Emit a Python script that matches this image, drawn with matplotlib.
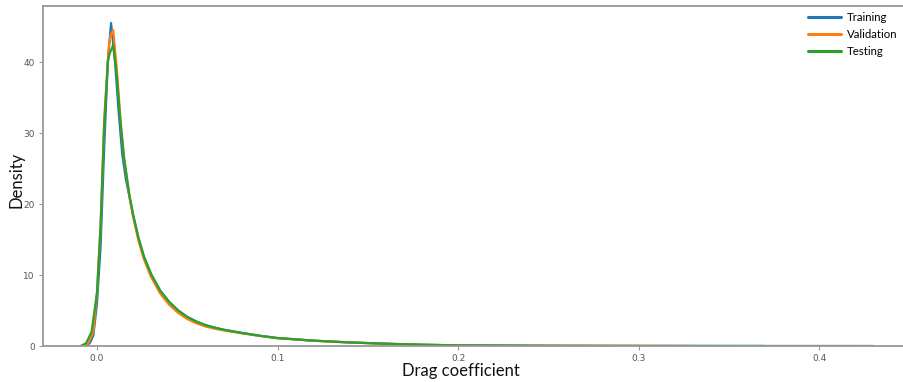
import matplotlib
matplotlib.use("Agg")
import matplotlib.pyplot as plt

# Kernel density estimates of the drag coefficient for each data split
train_x = [-0.006, -0.004, -0.002, 0.0, 0.002, 0.004, 0.006, 0.0078, 0.010, 0.012,
           0.014, 0.016, 0.018, 0.020, 0.023, 0.026, 0.030, 0.035, 0.040, 0.045,
           0.050, 0.055, 0.060, 0.065, 0.070, 0.080, 0.090, 0.100, 0.120, 0.140,
           0.160, 0.180, 0.200, 0.250, 0.300, 0.350, 0.400, 0.430]
train_d = [0.0, 0.4, 1.5, 6.0, 14.0, 28.0, 40.0, 45.5, 40.0, 33.0,
           27.0, 23.5, 21.0, 18.5, 15.2, 12.6, 10.1, 7.8, 6.2, 5.0,
           4.1, 3.45, 2.95, 2.6, 2.3, 1.85, 1.45, 1.12, 0.75, 0.5,
           0.32, 0.18, 0.09, 0.03, 0.012, 0.006, 0.003, 0.0]

val_x = [-0.008, -0.005, -0.002, 0.0, 0.002, 0.004, 0.0065, 0.0075, 0.009, 0.011,
         0.013, 0.015, 0.018, 0.020, 0.023, 0.026, 0.030, 0.035, 0.040, 0.045,
         0.050, 0.055, 0.060, 0.065, 0.070, 0.080, 0.090, 0.100, 0.120, 0.140,
         0.160, 0.180, 0.200, 0.250, 0.300, 0.330]
val_d = [0.0, 0.3, 2.0, 7.5, 17.0, 32.0, 42.0, 43.8, 44.5, 39.0,
         32.0, 26.5, 21.0, 18.2, 14.8, 12.2, 9.7, 7.4, 5.8, 4.65,
         3.8, 3.2, 2.75, 2.45, 2.2, 1.8, 1.42, 1.1, 0.75, 0.5,
         0.32, 0.18, 0.09, 0.03, 0.01, 0.0]

test_x = [-0.009, -0.006, -0.003, 0.0, 0.002, 0.004, 0.006, 0.007, 0.009, 0.011,
          0.013, 0.015, 0.018, 0.020, 0.023, 0.026, 0.030, 0.035, 0.040, 0.045,
          0.050, 0.055, 0.060, 0.065, 0.070, 0.080, 0.090, 0.100, 0.120, 0.140,
          0.160, 0.180, 0.200, 0.250, 0.300, 0.340, 0.369]
test_d = [0.0, 0.4, 2.0, 7.5, 17.0, 31.0, 40.0, 41.2, 42.4, 38.0,
          31.5, 26.5, 21.2, 18.5, 15.2, 12.6, 10.1, 7.8, 6.2, 5.0,
          4.1, 3.45, 2.95, 2.6, 2.3, 1.85, 1.45, 1.12, 0.75, 0.5,
          0.32, 0.18, 0.09, 0.03, 0.012, 0.005, 0.0]

series = [("Training", train_x, train_d, "#1f77b4"),
          ("Validation", val_x, val_d, "#ff7f0e"),
          ("Testing", test_x, test_d, "#2ca02c")]

x_ticks = [0.0, 0.1, 0.2, 0.3, 0.4]
y_ticks = [0, 10, 20, 30, 40]

fig = plt.figure(figsize=(9.04, 3.82), dpi=100)
ax = fig.add_axes([43 / 904, 36 / 382, 870 / 904, 340 / 382])

for name, xs, ds, col in series:
    ax.plot(xs, ds, color=col, lw=1.6, label=name,
            solid_joinstyle="round", solid_capstyle="round")

ax.set_xlim(-0.0299, 0.452)
ax.set_ylim(0, 47.9)
ax.set_xticks(x_ticks)
ax.set_xticklabels([f"{v:.1f}" for v in x_ticks])
ax.set_yticks(y_ticks)

spine_col = "#999999"
for s in ax.spines.values():
    s.set_color(spine_col)
    s.set_linewidth(1.3)
ax.tick_params(colors=spine_col, labelcolor="#555555", labelsize=6.5,
               length=3, width=0.8, pad=3)

label_font = dict(family=["Lato", "DejaVu Sans"], size=12, color="#111111")
ax.set_xlabel("Drag coefficient", **label_font)
ax.set_ylabel("Density", **label_font)
ax.xaxis.set_label_coords(0.4805, -0.0735, transform=ax.transAxes)
ax.yaxis.set_label_coords(-0.0305, 0.49, transform=ax.transAxes)
ax.xaxis.label.set_va("center")
ax.yaxis.label.set_va("center")

leg = fig.legend(loc="upper right", bbox_to_anchor=(0.998, 0.981), frameon=False,
                 prop=dict(family=["Lato", "DejaVu Sans"], size=8.2),
                 handlelength=2.9, handletextpad=0.55, labelspacing=0.55,
                 borderaxespad=0.0)
for h in leg.get_lines():
    h.set_linewidth(2.2)

fig.savefig("out.png", dpi=100)
